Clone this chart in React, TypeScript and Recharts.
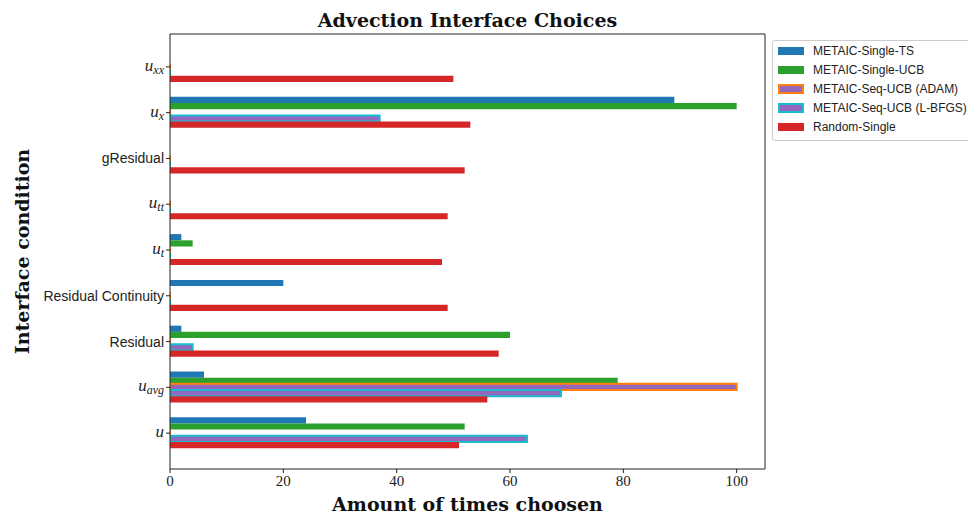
import { Bar, BarChart, XAxis, YAxis } from "recharts";

// Categories top → bottom, as in the figure.
const CATEGORIES = ["u_xx", "u_x", "gResidual", "u_tt", "u_t", "Residual Continuity", "Residual", "u_avg", "u"];

const SINGLE_TS = [0, 89, 0, 0, 2, 20, 2, 6, 24];
const SINGLE_UCB = [0, 100, 0, 0, 4, 0, 60, 79, 52];
const SEQ_UCB_ADAM = [0, 0, 0, 0, 0, 0, 0, 100, 0];
const SEQ_UCB_LBFGS = [0, 37, 0, 0, 0, 0, 4, 69, 63];
const RANDOM_SINGLE = [50, 53, 52, 49, 48, 49, 58, 56, 51];

const X_TICKS = [0, 20, 40, 60, 80, 100];

const SERIES = [
  { key: "ts", name: "METAIC-Single-TS", fill: "#1f77b4", edge: null as string | null, values: SINGLE_TS },
  { key: "ucb", name: "METAIC-Single-UCB", fill: "#2ca02c", edge: null, values: SINGLE_UCB },
  { key: "adam", name: "METAIC-Seq-UCB (ADAM)", fill: "#9467bd", edge: "#ff7f0e", values: SEQ_UCB_ADAM },
  { key: "lbfgs", name: "METAIC-Seq-UCB (L-BFGS)", fill: "#9467bd", edge: "#17becf", values: SEQ_UCB_LBFGS },
  { key: "random", name: "Random-Single", fill: "#d62728", edge: null, values: RANDOM_SINGLE },
];

const data = CATEGORIES.map((name, i) => {
  const row: Record<string, string | number> = { name };
  SERIES.forEach((s) => (row[s.key] = s.values[i]));
  return row;
});

const SERIF = "'DejaVu Serif', serif";
const NUM_SERIF = "'Liberation Serif', serif";
const SANS = "'Liberation Sans', sans-serif";
const AXIS = "#222";

// path instead of rect so zero-length bars still show their edge
function EdgedBar(props: any) {
  const { x, y, width, height, fill, stroke } = props;
  return (
    <path
      d={`M${x},${y}h${width}v${height}h${-width}Z`}
      fill={fill}
      stroke={stroke}
      strokeWidth={2}
    />
  );
}

function CategoryTick({ x, y, payload }: any) {
  const label: string = payload.value;
  const m = /^u(?:_(\w+))?$/.exec(label);
  if (m) {
    return (
      <text x={x} y={y} textAnchor="end" fontFamily={NUM_SERIF} fill="#222">
        <tspan fontStyle="italic" fontSize={17} dy={4}>
          u
        </tspan>
        {m[1] && (
          <tspan fontStyle="italic" fontSize={12} dy={3}>
            {m[1]}
          </tspan>
        )}
      </text>
    );
  }
  return (
    <text x={x} y={y} dy={5} textAnchor="end" fontFamily={SANS} fontSize={14} fill="#222">
      {label}
    </text>
  );
}

function Legend() {
  return (
    <div
      style={{
        position: "absolute",
        left: 772,
        top: 40,
        width: 210,
        height: 101,
        border: "1px solid #ccc",
        borderRadius: 3,
        background: "#fff",
        fontFamily: SANS,
        fontSize: 12,
        color: "#222",
        boxSizing: "border-box",
        padding: "0 0 0 5px",
      }}
    >
      {SERIES.map((s) => (
        <div key={s.key} style={{ display: "flex", alignItems: "center", height: 19 }}>
          <span
            style={{
              display: "inline-block",
              width: s.edge ? 22 : 26,
              height: s.edge ? 6 : 8,
              background: s.fill,
              border: s.edge ? `2px solid ${s.edge}` : "none",
              marginRight: 9,
            }}
          />
          {s.name}
        </div>
      ))}
    </div>
  );
}

export default function App() {
  return (
    <div
      style={{
        position: "fixed",
        left: 0,
        top: 0,
        width: 968,
        height: 517,
        overflow: "hidden",
        background: "#fff",
      }}
    >
      <BarChart
        width={968}
        height={517}
        data={data}
        layout="vertical"
        barSize={6.2}
        barGap={0}
        margin={{ top: 0, right: 0, bottom: 0, left: 0 }}
      >
        <XAxis
          type="number"
          domain={[0, 105]}
          ticks={X_TICKS}
          allowDataOverflow
          height={48}
          tickSize={4}
          stroke={AXIS}
          tick={{ fontFamily: NUM_SERIF, fontSize: 15, fill: "#222" }}
          label={(p: any) => (
            <text
              x={p.viewBox.x + p.viewBox.width / 2}
              y={p.viewBox.y + 42}
              textAnchor="middle"
              fontFamily={SERIF}
              fontWeight="bold"
              fontSize={19}
              fill="#111"
            >
              Amount of times choosen
            </text>
          )}
        />
        <XAxis
          xAxisId="top"
          orientation="top"
          type="number"
          domain={[0, 105]}
          height={34}
          tick={false}
          tickLine={false}
          stroke={AXIS}
          label={(p: any) => (
            <text
              x={p.viewBox.x + p.viewBox.width / 2}
              y={27}
              textAnchor="middle"
              fontFamily={SERIF}
              fontWeight="bold"
              fontSize={19}
              fill="#111"
            >
              Advection Interface Choices
            </text>
          )}
        />
        <YAxis
          type="category"
          dataKey="name"
          width={170}
          padding={{ top: 10, bottom: 13 }}
          tickSize={4}
          stroke={AXIS}
          interval={0}
          tick={<CategoryTick />}
          label={(p: any) => {
            const cx = 22;
            const cy = p.viewBox.y + p.viewBox.height / 2;
            return (
              <text
                x={cx}
                y={cy}
                transform={`rotate(-90 ${cx} ${cy})`}
                textAnchor="middle"
                dominantBaseline="central"
                fontFamily={SERIF}
                fontWeight="bold"
                fontSize={19}
                fill="#111"
              >
                Interface condition
              </text>
            );
          }}
        />
        <YAxis
          yAxisId="right"
          orientation="right"
          type="category"
          dataKey="name"
          width={203}
          tick={false}
          tickLine={false}
          stroke={AXIS}
        />
        {SERIES.map((s) =>
          s.edge ? (
            <Bar
              key={s.key}
              dataKey={s.key}
              name={s.name}
              fill={s.fill}
              stroke={s.edge}
              shape={<EdgedBar />}
              isAnimationActive={false}
            />
          ) : (
            <Bar key={s.key} dataKey={s.key} name={s.name} fill={s.fill} isAnimationActive={false} />
          )
        )}
      </BarChart>
      <Legend />
    </div>
  );
}
